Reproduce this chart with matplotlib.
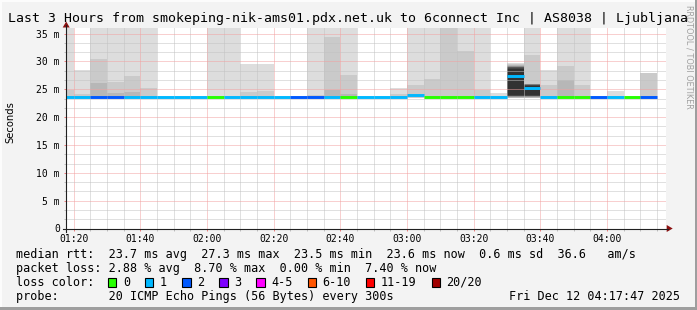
import matplotlib
matplotlib.use("Agg")
import matplotlib.pyplot as plt
import numpy as np
from matplotlib.lines import Line2D
from matplotlib.patches import Polygon, Rectangle

W, H, DPI = 697, 310, 100

# ---------------- data ----------------
bin_times = ["01:15", "01:20", "01:25", "01:30", "01:35", "01:40", "01:45", "01:50", "01:55",
             "02:00", "02:05", "02:10", "02:15", "02:20", "02:25", "02:30", "02:35", "02:40",
             "02:45", "02:50", "02:55", "03:00", "03:05", "03:10", "03:15", "03:20", "03:25",
             "03:30", "03:35", "03:40", "03:45", "03:50", "03:55", "04:00", "04:05", "04:10"]
loss_level = [1, 1, 2, 2, 1, 1, 1, 1, 1,
              0, 1, 1, 1, 1, 2, 2, 1, 0,
              1, 1, 1, 1, 0, 0, 0, 1, 1,
              1, 1, 1, 0, 0, 2, 1, 0, 2]
median_ms = [23.7, 23.7, 23.7, 23.7, 23.7, 23.7, 23.7, 23.7, 23.7,
             23.7, 23.7, 23.7, 23.7, 23.7, 23.7, 23.7, 23.7, 23.7,
             23.7, 23.7, 23.7, 23.9, 23.7, 23.7, 23.7, 23.7, 23.7,
             27.3, 25.2, 23.7, 23.7, 23.7, 23.6, 23.7, 23.7, 23.6]
nan = float("nan")
# top of outermost smoke band (lightest)
smoke_b1 = [37.0, 28.5, 37.0, 37.0, 37.0, 37.0, nan, nan, nan,
            37.0, 37.0, 29.5, 29.5, nan, nan, 37.0, 37.0, 37.0,
            nan, nan, 25.3, 37.0, 37.0, 37.0, 37.0, 37.0, 24.4,
            29.75, 37.0, 28.5, 37.0, 37.0, nan, 24.7, nan, 28.0]
# top of second smoke band
smoke_b2 = [24.8, 24.2, 30.4, 26.3, 27.4, 25.2, nan, nan, nan,
            nan, nan, 24.5, 24.7, nan, nan, 24.0, 34.4, 27.6,
            nan, nan, 24.1, 25.8, 26.9, 37.0, 31.9, 24.9, nan,
            29.55, 31.2, 25.8, 29.1, 25.7, nan, nan, nan, 28.0]
# top of third smoke band
smoke_b3 = [nan, nan, 26.2, 24.3, 24.6, nan, nan, nan, nan,
            nan, nan, nan, nan, nan, nan, nan, 24.8, 24.1,
            nan, nan, nan, nan, nan, nan, nan, nan, nan,
            29.35, 26.0, nan, 26.7, nan, nan, nan, nan, nan]
smoke_low = 23.45
# inner (dark) smoke bands 4..10 for the two spread-out bins
dark_bin_times = ["03:30", "03:35"]
dark_tops_0330 = [29.2, 29.1, 29.05, 29.0, 28.95, 28.9, 28.6]
dark_tops_0335 = [25.95, 25.9, 25.9, 25.85, 25.8, 25.8, 25.6]
dark_lows = [23.65, 23.7, 23.75, 23.8, 23.8, 23.85, 23.9]

loss_labels = ["0", "1", "2", "3", "4-5", "6-10", "11-19", "20/20"]
loss_colors = ["#26ff00", "#00b8ff", "#0059ff", "#7e00ff", "#ff00ff", "#ff5500", "#ff0000", "#a10000"]

x_tick_labels = ["01:20", "01:40", "02:00", "02:20", "02:40", "03:00", "03:20", "03:40", "04:00"]
y_tick_values = [0, 5, 10, 15, 20, 25, 30, 35]
y_tick_labels = ["0", "5 m", "10 m", "15 m", "20 m", "25 m", "30 m", "35 m"]
t_start, t_end = "01:17:47", "04:17:47"

title = "Last 3 Hours from smokeping-nik-ams01.pdx.net.uk to 6connect Inc | AS8038 | Ljubljana"
line_rtt = "median rtt:  23.7 ms avg  27.3 ms max  23.5 ms min  23.6 ms now  0.6 ms sd  36.6   am/s"
line_loss = "packet loss: 2.88 % avg  8.70 % max  0.00 % min  7.40 % now"
line_probe = "probe:       20 ICMP Echo Pings (56 Bytes) every 300s"
stamp = "Fri Dec 12 04:17:47 2025"


def tmin(s):
    p = [int(v) for v in s.split(":")]
    return p[0] * 60 + p[1] + (p[2] / 60 if len(p) > 2 else 0)


MONO = "DejaVu Sans Mono"
BG = "#f3f3f3"

fig = plt.figure(figsize=(W / DPI, H / DPI), dpi=DPI, facecolor=BG)

AX_L, AX_R, AX_T, AX_B = 66.2, 666.2, 27.5, 228.5
ax = fig.add_axes([AX_L / W, 1 - AX_B / H, (AX_R - AX_L) / W, (AX_B - AX_T) / H])
ax.set_facecolor("white")
x0, x1 = tmin(t_start), tmin(t_end)
ax.set_xlim(x0, x1)
ax.set_ylim(0, 36.1)

BIN = 5.0
starts = np.array([tmin(t) for t in bin_times])


def gray(i):
    v = int(190 / 10 * (10 - i)) + 50
    return "#%02x%02x%02x" % (v, v, v)


for i, tops in enumerate([smoke_b1, smoke_b2, smoke_b3], start=1):
    tops = np.array(tops, float)
    m = ~np.isnan(tops)
    ax.bar(starts[m], tops[m] - smoke_low, bottom=smoke_low, width=BIN, align="edge",
           color=gray(i), linewidth=0, antialiased=False, zorder=1)

dstarts = np.array([tmin(t) for t in dark_bin_times])
for j, (ta, tb, lo) in enumerate(zip(dark_tops_0330, dark_tops_0335, dark_lows)):
    tops = np.array([ta, tb])
    ax.bar(dstarts, tops - lo, bottom=lo, width=BIN, align="edge",
           color=gray(j + 4), linewidth=0, antialiased=False, zorder=1)

seg_colors = [loss_colors[k] for k in loss_level]
lc = ax.hlines(median_ms, starts, starts + BIN, colors=seg_colors, linewidth=2.1, zorder=4)
lc.set_capstyle("butt")

# ticks & grid
ax.set_xticks([tmin(t) for t in x_tick_labels])
ax.set_xticklabels(x_tick_labels)
ax.set_xticks(np.arange(tmin("01:20"), x1, 5), minor=True)
ax.set_yticks(y_tick_values)
ax.set_yticklabels(y_tick_labels)
ax.set_yticks(np.arange(0, 36.1, 5 / 3), minor=True)
ax.set_axisbelow(False)
ax.grid(which="major", color="#f2a0a0", linestyle=(0, (1, 1)), linewidth=0.72)
ax.grid(which="minor", color="#c2c2c2", linestyle=(0, (1, 1)), linewidth=0.72)
ax.tick_params(which="major", direction="out", length=1.6, width=0.72, color="#f08080",
               labelsize=7, pad=2.0)
ax.tick_params(which="minor", direction="out", length=1.6, width=0.72, color="#c0c0c0")
ax.tick_params(axis="y", which="major", pad=3.0)
for lab in ax.get_xticklabels() + ax.get_yticklabels():
    lab.set_family(MONO)
for s in ax.spines.values():
    s.set_visible(False)


def P(x, y):
    return x, H - y


# axis lines and arrows (pixel coordinates)
fig.add_artist(Line2D([AX_L - 3, AX_R + 2], [H - AX_B, H - AX_B], transform=None,
                      color="#202020", linewidth=0.8))
fig.add_artist(Line2D([AX_L, AX_L], [H - AX_B - 3, H - 25], transform=None,
                      color="#202020", linewidth=0.8))
fig.add_artist(Polygon([P(AX_R + 0.5, AX_B - 3.5), P(AX_R + 6.5, AX_B), P(AX_R + 0.5, AX_B + 3.5)],
                       closed=True, transform=None, color="#8b1010", linewidth=0))
fig.add_artist(Polygon([P(AX_L - 3.5, 27.5), P(AX_L, 21.5), P(AX_L + 3.5, 27.5)],
                       closed=True, transform=None, color="#8b1010", linewidth=0))

# texts
fig.text(8 / W, 1 - 18.5 / H, title, family=MONO, fontsize=9.5, ha="left", va="center")
fig.text(10.5 / W, 1 - 122.5 / H, "Seconds", family="DejaVu Sans", fontsize=7.2,
         rotation=90, ha="center", va="center")
fig.text(689 / W, 1 - 5 / H, "RRDTOOL / TOBI OETIKER", family="DejaVu Sans", fontsize=5.9,
         rotation=270, ha="center", va="top", color="#a0a0a0")

LX = 16
fig.text(LX / W, 1 - 254.3 / H, line_rtt, family=MONO, fontsize=8.5, ha="left", va="center")
fig.text(LX / W, 1 - 268.3 / H, line_loss, family=MONO, fontsize=8.5, ha="left", va="center")
fig.text(LX / W, 1 - 282.3 / H, "loss color:", family=MONO, fontsize=8.5, ha="left", va="center")
fig.text(LX / W, 1 - 296.3 / H, line_probe, family=MONO, fontsize=8.5, ha="left", va="center")
fig.text(680 / W, 1 - 296.3 / H, stamp, family=MONO, fontsize=8.5, ha="right", va="center")

CW = 7.1
bx = 108.0
for lab, col in zip(loss_labels, loss_colors):
    fig.add_artist(Rectangle((bx, H - 286.7), 8.3, 8.3, transform=None, facecolor=col,
                             edgecolor="black", linewidth=0.8))
    fig.text((bx + 15) / W, 1 - 282.3 / H, lab, family=MONO, fontsize=8.5, ha="left", va="center")
    bx = bx + 15 + len(lab) * CW + 15

# 3D frame
fig.add_artist(Rectangle((0, H - 2), W, 2, transform=None, facecolor="#fcfcfc", linewidth=0))
fig.add_artist(Rectangle((0, 0), 2, H, transform=None, facecolor="#fcfcfc", linewidth=0))
fig.add_artist(Rectangle((0, 0), W, 3, transform=None, facecolor="#9e9e9e", linewidth=0))
fig.add_artist(Rectangle((W - 2, 0), 2, H, transform=None, facecolor="#9e9e9e", linewidth=0))

fig.savefig("out.png", dpi=DPI, facecolor=BG)
